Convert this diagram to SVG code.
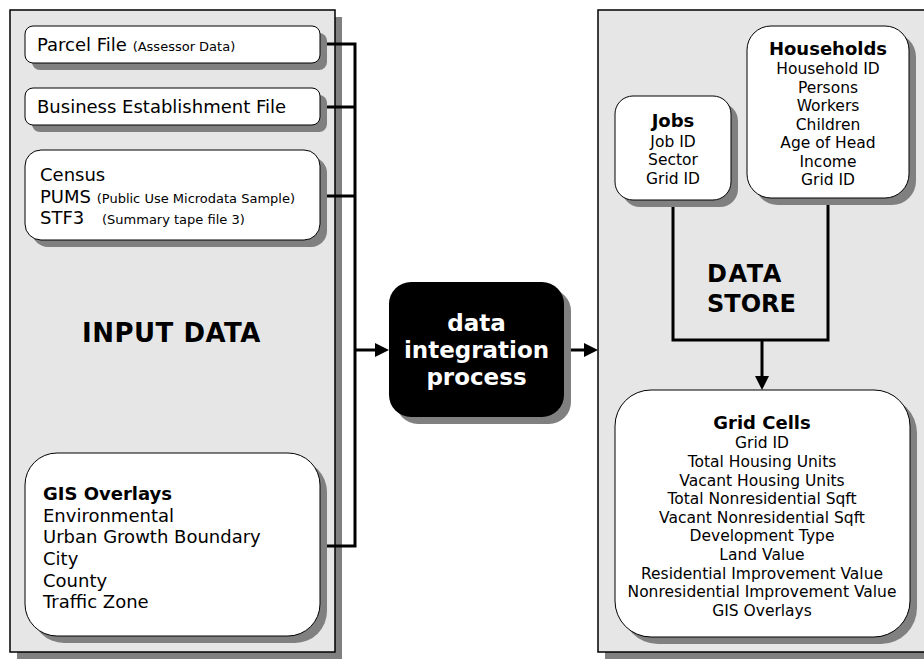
<svg xmlns="http://www.w3.org/2000/svg" width="924" height="659" viewBox="0 0 924 659">
  <style>
    text { font-family: "DejaVu Sans", Verdana, sans-serif; fill: #000; }
    .panel { fill: #e6e6e6; stroke: #000; stroke-width: 1.5; }
    .shadow { fill: #808080; }
    .box { fill: #fff; stroke: #000; stroke-width: 1; }
    .list { font-size: 18px; }
    .small { font-size: 13px; }
    .field { font-size: 15.5px; text-anchor: middle; }
    .title { font-size: 18px; font-weight: bold; text-anchor: middle; }
    .big { font-weight: bold; }
    .conn { fill: none; stroke: #000; stroke-width: 3; }
  </style>
  <defs>
    <marker id="arrow" markerUnits="userSpaceOnUse" markerWidth="14" markerHeight="14" viewBox="0 0 14 14" refX="4" refY="7" orient="auto">
      <path d="M0,0 L14,7 L0,14 z" fill="#000"/>
    </marker>
  </defs>

  <rect width="924" height="659" fill="#fff"/>

  <!-- Input data panel -->
  <g id="input-panel">
    <rect class="shadow" x="17" y="17" width="325" height="642"/>
    <rect class="panel" x="10" y="10" width="325" height="642"/>
    <text class="big" x="82" y="342" font-size="26" letter-spacing="0.5">INPUT DATA</text>
  </g>

  <!-- Data store panel -->
  <g id="store-panel">
    <rect class="shadow" x="605" y="17" width="340" height="642"/>
    <rect class="panel" x="598" y="10" width="340" height="642"/>
    <text class="big" x="707" y="282" font-size="24" letter-spacing="1.5">DATA</text>
    <text class="big" x="707" y="312" font-size="24">STORE</text>
  </g>

  <!-- Connectors -->
  <g id="connectors">
    <path class="conn" d="M320 44 H355 V546 H320"/>
    <path class="conn" d="M320 107 H355"/>
    <path class="conn" d="M320 196 H355"/>
    <path class="conn" d="M355 350 H379" marker-end="url(#arrow)"/>
    <path class="conn" d="M564 350 H588" marker-end="url(#arrow)"/>
    <path class="conn" d="M673 200 V340 H828 V198"/>
    <path class="conn" d="M762 340 V380" marker-end="url(#arrow)"/>
  </g>

  <g id="parcel-file">
    <rect class="shadow" x="32" y="33" width="295" height="37" rx="8"/>
    <rect class="box" x="25" y="26" width="295" height="37" rx="8"/>
    <text x="37" y="51" font-size="18">Parcel File <tspan class="small">(Assessor Data)</tspan></text>
  </g>

  <g id="business-file">
    <rect class="shadow" x="32" y="95" width="295" height="37" rx="8"/>
    <rect class="box" x="25" y="88" width="295" height="37" rx="8"/>
    <text x="37" y="113" font-size="18">Business Establishment File</text>
  </g>

  <g id="census">
    <rect class="shadow" x="32" y="157" width="295" height="90" rx="16"/>
    <rect class="box" x="25" y="150" width="295" height="90" rx="16"/>
    <text x="40" y="181" font-size="18">Census</text>
    <text x="40" y="203" font-size="18">PUMS <tspan class="small">(Public Use Microdata Sample)</tspan></text>
    <text x="40" y="224" font-size="18">STF3 <tspan class="small" x="102">(Summary tape file 3)</tspan></text>
  </g>

  <g id="gis-overlays">
    <rect class="shadow" x="32" y="460" width="295" height="183" rx="32"/>
    <rect class="box" x="25" y="453" width="295" height="183" rx="32"/>
    <text class="list" x="43" y="500" font-weight="bold">GIS Overlays</text>
    <text class="list" x="43" y="521.7">Environmental</text>
    <text class="list" x="43" y="543.4">Urban Growth Boundary</text>
    <text class="list" x="43" y="565">City</text>
    <text class="list" x="43" y="586.7">County</text>
    <text class="list" x="43" y="608.3">Traffic Zone</text>
  </g>

  <g id="integration">
    <rect class="shadow" x="396" y="289" width="175" height="135" rx="22"/>
    <rect x="389" y="282" width="175" height="135" rx="22" fill="#000"/>
    <text x="476.5" y="331" font-size="23" font-weight="bold" text-anchor="middle" style="fill:#fff">data</text>
    <text x="476.5" y="358" font-size="23" font-weight="bold" text-anchor="middle" style="fill:#fff">integration</text>
    <text x="476.5" y="385" font-size="23" font-weight="bold" text-anchor="middle" style="fill:#fff">process</text>
  </g>

  <g id="jobs">
    <rect class="shadow" x="622" y="103" width="116" height="104" rx="18"/>
    <rect class="box" x="615" y="96" width="116" height="104" rx="18"/>
    <text class="title" x="673" y="127">Jobs</text>
    <text class="field" x="673" y="146.5">Job ID</text>
    <text class="field" x="673" y="165">Sector</text>
    <text class="field" x="673" y="183.5">Grid ID</text>
  </g>

  <g id="households">
    <rect class="shadow" x="754" y="33" width="162" height="172" rx="24"/>
    <rect class="box" x="747" y="26" width="162" height="172" rx="24"/>
    <text class="title" x="828" y="55">Households</text>
    <text class="field" x="828" y="74">Household ID</text>
    <text class="field" x="828" y="92.5">Persons</text>
    <text class="field" x="828" y="111">Workers</text>
    <text class="field" x="828" y="129.7">Children</text>
    <text class="field" x="828" y="148.3">Age of Head</text>
    <text class="field" x="828" y="166.8">Income</text>
    <text class="field" x="828" y="185.4">Grid ID</text>
  </g>

  <g id="grid-cells">
    <rect class="shadow" x="622" y="397" width="295" height="247" rx="36"/>
    <rect class="box" x="615" y="390" width="295" height="247" rx="36"/>
    <text class="title" x="762" y="428.5">Grid Cells</text>
    <text class="field" x="762" y="448.3">Grid ID</text>
    <text class="field" x="762" y="466.9">Total Housing Units</text>
    <text class="field" x="762" y="485.5">Vacant Housing Units</text>
    <text class="field" x="762" y="504.1">Total Nonresidential Sqft</text>
    <text class="field" x="762" y="522.7">Vacant Nonresidential Sqft</text>
    <text class="field" x="762" y="541.3">Development Type</text>
    <text class="field" x="762" y="559.9">Land Value</text>
    <text class="field" x="762" y="578.5">Residential Improvement Value</text>
    <text class="field" x="762" y="597.1">Nonresidential Improvement Value</text>
    <text class="field" x="762" y="615.7">GIS Overlays</text>
  </g>
</svg>
